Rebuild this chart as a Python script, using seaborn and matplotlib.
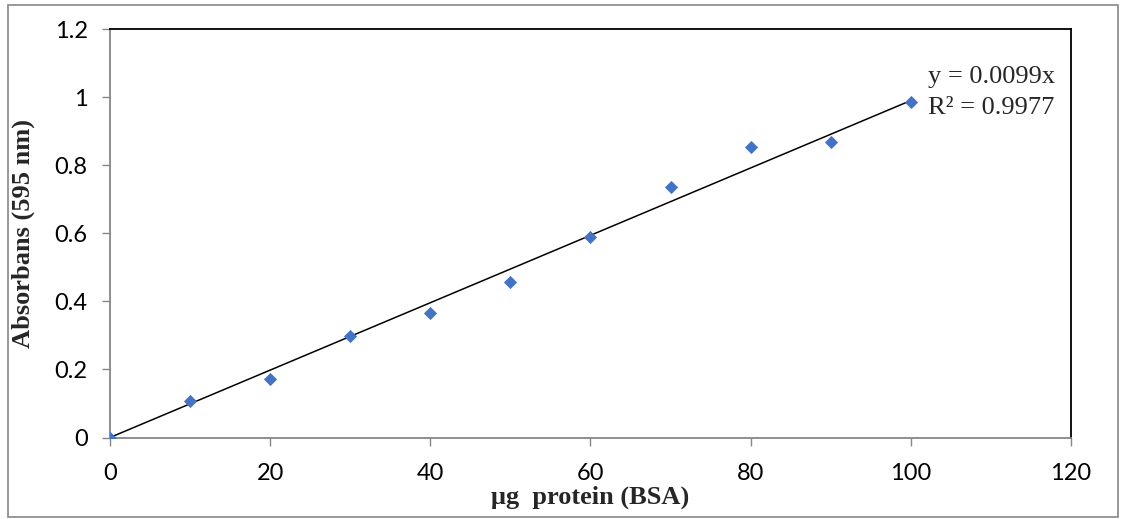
import matplotlib
matplotlib.use("Agg")
import matplotlib.pyplot as plt
import seaborn as sns
import pandas as pd
from matplotlib.patches import Rectangle

# Data
protein_ug = [0, 10, 20, 30, 40, 50, 60, 70, 80, 90, 100]
absorbance = [0.0, 0.107, 0.172, 0.298, 0.366, 0.457, 0.589, 0.736, 0.853, 0.868, 0.986]
slope = 0.0099
r_squared = 0.9977
x_ticks = [0, 20, 40, 60, 80, 100, 120]
y_ticks = [0, 0.2, 0.4, 0.6, 0.8, 1.0, 1.2]
y_tick_labels = ["0", "0.2", "0.4", "0.6", "0.8", "1", "1.2"]
x_label = "μg  protein (BSA)"
y_label = "Absorbans (595 nm)"

sns.set_theme(style="white")
plt.rcParams["font.family"] = ["Lato", "DejaVu Sans"]
serif = ["Liberation Serif", "DejaVu Serif"]

df = pd.DataFrame({"x": protein_ug, "y": absorbance})
trend = pd.DataFrame({"x": [protein_ug[0], protein_ug[-1]],
                      "y": [slope * protein_ug[0], slope * protein_ug[-1]]})

fig = plt.figure(figsize=(11.21, 5.19), dpi=100)
ax = fig.add_axes([0.0981, 0.157, 0.9554 - 0.0981, 0.944 - 0.157])

sns.lineplot(data=trend, x="x", y="y", ax=ax, color="black", linewidth=1.1, zorder=2)
sns.scatterplot(data=df, x="x", y="y", ax=ax, marker="D", s=45, color="#4472C4",
                edgecolor="#4472C4", linewidth=0, zorder=3)

ax.set_xlim(0, 120)
ax.set_ylim(0, 1.2)
ax.set_xticks(x_ticks)
ax.set_xticklabels([str(t) for t in x_ticks])
ax.set_yticks(y_ticks)
ax.set_yticklabels(y_tick_labels)

for side in ["left", "bottom"]:
    ax.spines[side].set_color("#868686")
    ax.spines[side].set_linewidth(1.3)
for side in ["top", "right"]:
    ax.spines[side].set_color("black")
    ax.spines[side].set_linewidth(1.3)
    ax.spines[side].set_visible(True)

ax.tick_params(axis="both", which="major", direction="out", length=6, width=1,
               color="#868686", labelsize=17, labelcolor="black", pad=10)
ax.tick_params(axis="x", bottom=True, pad=12)
ax.tick_params(axis="y", left=True)

ax.set_xlabel(x_label, fontsize=19, fontweight="bold", family=serif)
ax.set_ylabel(y_label, fontsize=19, fontweight="bold", family=serif)
ax.xaxis.set_label_coords(0.5, -0.118)
ax.yaxis.set_label_coords(-0.078, 0.5)

ax.text(928 / 1121, 1 - 83 / 519, f"y = {slope}x", transform=fig.transFigure,
        fontsize=19, family=serif, va="baseline", ha="left")
ax.text(928 / 1121, 1 - 114 / 519, f"R² = {r_squared}", transform=fig.transFigure,
        fontsize=19, family=serif, va="baseline", ha="left")

fig.patches.append(Rectangle((8 / 1121, 1 - 517 / 519), 1110 / 1121, 512 / 519,
                             transform=fig.transFigure, fill=False,
                             edgecolor="#868686", linewidth=1.2))

fig.savefig("out.png", dpi=100)
